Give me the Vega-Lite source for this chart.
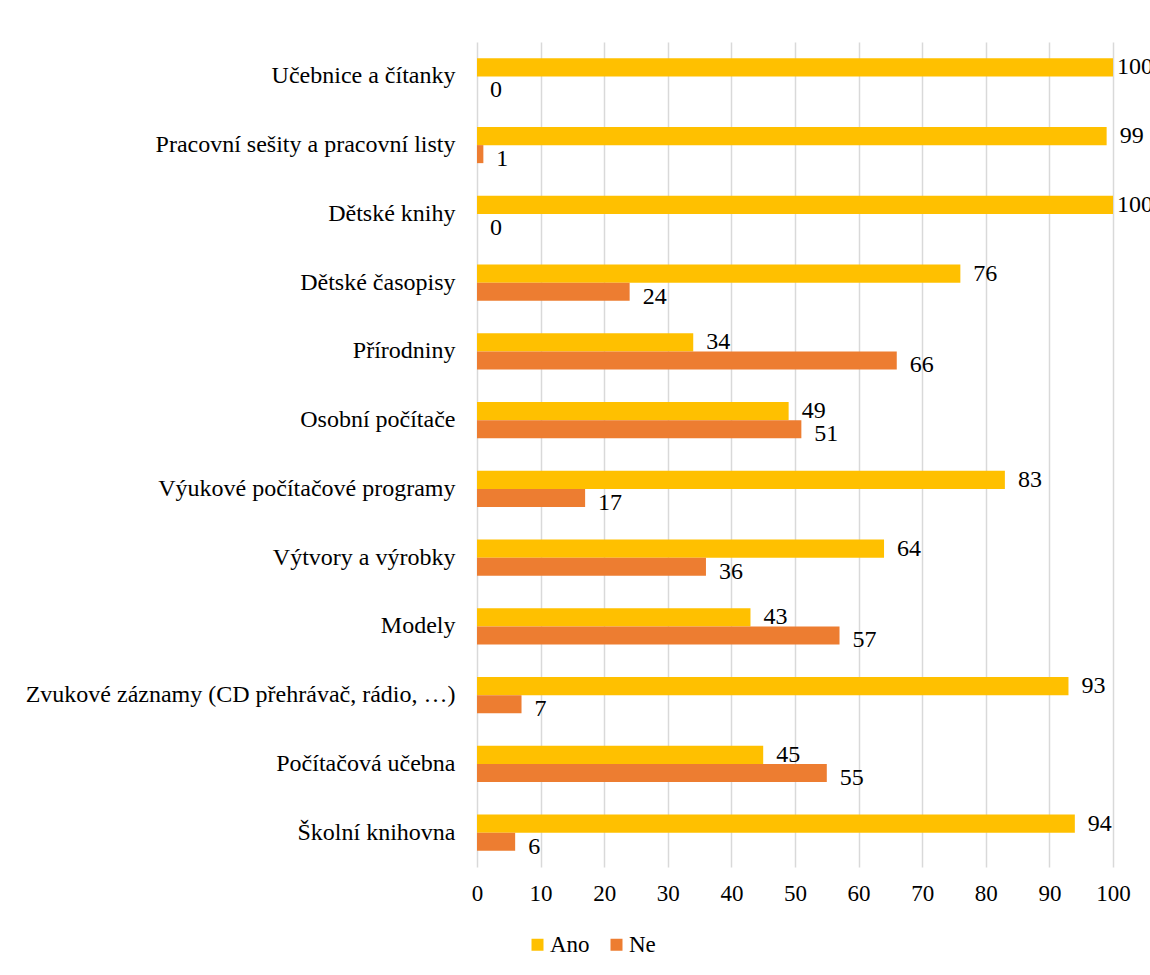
{
  "$schema": "https://vega.github.io/schema/vega-lite/v6.json",
  "autosize": "none",
  "width": 636,
  "height": 825,
  "padding": {"left": 477, "top": 42, "right": 37, "bottom": 108},
  "background": "white",
  "config": {
    "font": "Liberation Serif",
    "view": {"stroke": null}
  },
  "data": {
    "values": [
      {"kategorie": "Učebnice a čítanky", "odpoved": "Ano", "hodnota": 100},
      {"kategorie": "Učebnice a čítanky", "odpoved": "Ne", "hodnota": 0},
      {"kategorie": "Pracovní sešity a pracovní listy", "odpoved": "Ano", "hodnota": 99},
      {"kategorie": "Pracovní sešity a pracovní listy", "odpoved": "Ne", "hodnota": 1},
      {"kategorie": "Dětské knihy", "odpoved": "Ano", "hodnota": 100},
      {"kategorie": "Dětské knihy", "odpoved": "Ne", "hodnota": 0},
      {"kategorie": "Dětské časopisy", "odpoved": "Ano", "hodnota": 76},
      {"kategorie": "Dětské časopisy", "odpoved": "Ne", "hodnota": 24},
      {"kategorie": "Přírodniny", "odpoved": "Ano", "hodnota": 34},
      {"kategorie": "Přírodniny", "odpoved": "Ne", "hodnota": 66},
      {"kategorie": "Osobní počítače", "odpoved": "Ano", "hodnota": 49},
      {"kategorie": "Osobní počítače", "odpoved": "Ne", "hodnota": 51},
      {"kategorie": "Výukové počítačové programy", "odpoved": "Ano", "hodnota": 83},
      {"kategorie": "Výukové počítačové programy", "odpoved": "Ne", "hodnota": 17},
      {"kategorie": "Výtvory a výrobky", "odpoved": "Ano", "hodnota": 64},
      {"kategorie": "Výtvory a výrobky", "odpoved": "Ne", "hodnota": 36},
      {"kategorie": "Modely", "odpoved": "Ano", "hodnota": 43},
      {"kategorie": "Modely", "odpoved": "Ne", "hodnota": 57},
      {"kategorie": "Zvukové záznamy (CD přehrávač, rádio, …)", "odpoved": "Ano", "hodnota": 93},
      {"kategorie": "Zvukové záznamy (CD přehrávač, rádio, …)", "odpoved": "Ne", "hodnota": 7},
      {"kategorie": "Počítačová učebna", "odpoved": "Ano", "hodnota": 45},
      {"kategorie": "Počítačová učebna", "odpoved": "Ne", "hodnota": 55},
      {"kategorie": "Školní knihovna", "odpoved": "Ano", "hodnota": 94},
      {"kategorie": "Školní knihovna", "odpoved": "Ne", "hodnota": 6}
    ]
  },
  "encoding": {
    "y": {
      "field": "kategorie",
      "type": "nominal",
      "sort": null,
      "scale": {"paddingInner": 0.476, "paddingOuter": 0.238},
      "axis": {
        "title": null,
        "ticks": false,
        "domain": false,
        "labelFontSize": 24,
        "labelColor": "#000000",
        "labelPadding": 22,
        "labelLimit": 500
      }
    },
    "yOffset": {
      "field": "odpoved",
      "type": "nominal",
      "sort": ["Ano", "Ne"]
    },
    "x": {
      "field": "hodnota",
      "type": "quantitative",
      "scale": {"domain": [0, 100], "nice": false},
      "axis": {
        "title": null,
        "values": [0, 10, 20, 30, 40, 50, 60, 70, 80, 90, 100],
        "ticks": false,
        "domain": false,
        "grid": true,
        "gridColor": "#d9d9d9",
        "gridWidth": 1.5,
        "labelFontSize": 23,
        "labelColor": "#000000",
        "labelPadding": 15,
        "labelFlush": false
      }
    }
  },
  "layer": [
    {
      "mark": {"type": "bar"},
      "encoding": {
        "color": {
          "field": "odpoved",
          "type": "nominal",
          "scale": {"domain": ["Ano", "Ne"], "range": ["#FFC000", "#ED7D31"]},
          "legend": {
            "title": null,
            "orient": "none",
            "direction": "horizontal",
            "legendX": 49,
            "legendY": 891,
            "symbolType": "square",
            "symbolSize": 144,
            "symbolStrokeWidth": 0,
            "labelFontSize": 23,
            "labelColor": "#000000",
            "columnPadding": 15,
            "labelOffset": 1
          }
        }
      }
    },
    {
      "transform": [{"filter": "datum.odpoved === 'Ano' && datum.hodnota < 100"}],
      "mark": {"type": "text", "align": "left", "baseline": "middle", "dx": 13, "dy": 0, "fontSize": 24, "color": "#000000"},
      "encoding": {
        "text": {"field": "hodnota", "type": "quantitative"}
      }
    },
    {
      "transform": [{"filter": "datum.odpoved === 'Ano' && datum.hodnota >= 100"}],
      "mark": {"type": "text", "align": "left", "baseline": "middle", "dx": 4, "dy": 0, "fontSize": 24, "color": "#000000"},
      "encoding": {
        "text": {"field": "hodnota", "type": "quantitative"}
      }
    },
    {
      "transform": [{"filter": "datum.odpoved === 'Ne'"}],
      "mark": {"type": "text", "align": "left", "baseline": "middle", "dx": 13, "dy": 5, "fontSize": 24, "color": "#000000"},
      "encoding": {
        "text": {"field": "hodnota", "type": "quantitative"}
      }
    }
  ]
}
